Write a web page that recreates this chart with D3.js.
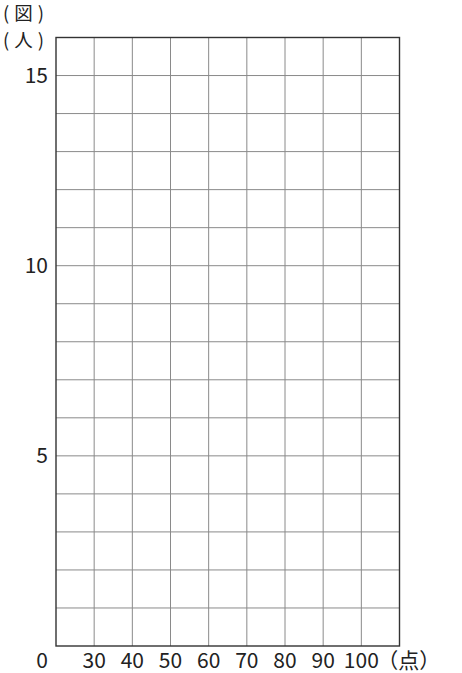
<!DOCTYPE html>
<html>
<head>
<meta charset="utf-8">
<script src="https://cdn.jsdelivr.net/npm/d3@7"></script>
<style>
  html, body { margin: 0; padding: 0; background: #fff; }
  svg text { font-family: "Noto Sans CJK JP", sans-serif; fill: #222; }
</style>
</head>
<body>
<svg id="chart" width="462" height="673"></svg>
<script>
// grid columns: first column is the 0-30 break, then every 10 points, one spare column after 100
const xTicks = [30, 40, 50, 60, 70, 80, 90, 100];
const xDomain = [20, 110];
const yTicks = [5, 10, 15];
const yMax = 16;
const xUnit = "（点）";
const yUnit = "(人)";
const title = "(図)";

const svg = d3.select("#chart");
const m = {left: 56, right: 399.5, top: 37.5, bottom: 646};

const x = d3.scaleLinear().domain(xDomain).range([m.left, m.right]);
const y = d3.scaleLinear().domain([0, yMax]).range([m.bottom, m.top]);

// grid
const grid = svg.append("g").attr("stroke", "#8a8a8a").attr("stroke-width", 1);
grid.selectAll("line.v")
  .data(d3.range(xDomain[0] + 10, xDomain[1], 10))
  .enter().append("line")
  .attr("x1", d => x(d)).attr("x2", d => x(d))
  .attr("y1", m.top).attr("y2", m.bottom);
grid.selectAll("line.h")
  .data(d3.range(1, yMax))
  .enter().append("line")
  .attr("y1", d => y(d)).attr("y2", d => y(d))
  .attr("x1", m.left).attr("x2", m.right);

// frame
svg.append("rect")
  .attr("x", m.left).attr("y", m.top)
  .attr("width", m.right - m.left).attr("height", m.bottom - m.top)
  .attr("fill", "none").attr("stroke", "#333").attr("stroke-width", 1.4);

// x labels
const xLabelY = 668;
svg.append("g").selectAll("text")
  .data(xTicks)
  .enter().append("text")
  .attr("x", d => x(d)).attr("y", xLabelY)
  .attr("text-anchor", "middle")
  .attr("font-size", 21)
  .text(d => d);

svg.append("text")
  .attr("x", 42).attr("y", xLabelY)
  .attr("text-anchor", "middle")
  .attr("font-size", 21)
  .text("0");

svg.append("text")
  .attr("x", x(100) + 16).attr("y", xLabelY)
  .attr("font-size", 21)
  .text(xUnit);

// y labels
svg.append("g").selectAll("text")
  .data(yTicks)
  .enter().append("text")
  .attr("x", 48).attr("y", d => y(d))
  .attr("dy", "0.36em")
  .attr("text-anchor", "end")
  .attr("font-size", 21)
  .text(d => d);

svg.append("text")
  .attr("x", 3).attr("y", 20)
  .attr("font-size", 18.5)
  .attr("letter-spacing", 5)
  .text(title);

svg.append("text")
  .attr("x", 3).attr("y", 46.5)
  .attr("font-size", 18.5)
  .attr("letter-spacing", 5)
  .text(yUnit);
</script>
</body>
</html>
